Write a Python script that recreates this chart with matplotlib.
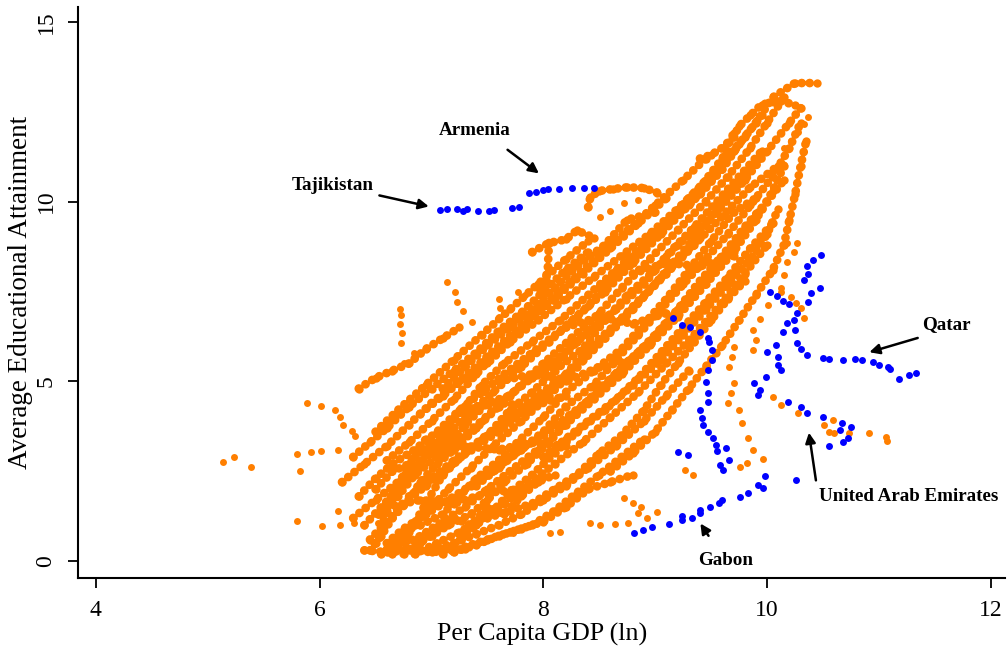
import matplotlib
matplotlib.use("Agg")
from matplotlib import pyplot as plt

plt.rcParams['font.family'] = ['Liberation Serif', 'DejaVu Serif']

ORANGE = "#ff7f00"
BLUE = "#0000ff"

# orange country paths in the dense band (ln gdp, years of schooling)
dense_paths = [
    [(6.40,0.30),(6.60,0.25),(6.80,0.30),(7.00,0.25),(7.20,0.30),(7.30,0.35)],
    [(6.55,0.20),(6.70,0.60),(6.85,1.00),(7.00,1.50),(7.15,2.00),(7.35,2.60),(7.55,3.20),(7.80,3.90),(8.05,4.60),(8.30,5.40),(8.55,6.20),(8.80,7.00),(9.05,7.90),(9.30,8.80),(9.55,9.70),(9.80,10.60),(10.00,11.40),(10.20,12.20),(10.30,12.60)],
    [(6.70,0.40),(6.90,0.70),(7.10,1.10),(7.30,1.50),(7.50,2.00),(7.70,2.50),(7.95,3.10),(8.20,3.80),(8.45,4.50),(8.70,5.20),(8.95,6.00),(9.20,6.80),(9.45,7.70),(9.70,8.60),(9.90,9.50),(10.05,10.30),(10.15,11.00)],
    [(6.85,0.20),(7.05,0.50),(7.25,0.80),(7.45,1.20),(7.65,1.60),(7.85,2.10),(8.10,2.70),(8.35,3.30),(8.60,4.00),(8.85,4.70),(9.10,5.50),(9.35,6.30),(9.60,7.20),(9.80,8.00),(10.00,8.80)],
    [(6.30,1.20),(6.50,1.70),(6.70,2.20),(6.90,2.80),(7.10,3.40),(7.30,4.00),(7.55,4.70),(7.80,5.40),(8.05,6.10),(8.30,6.80),(8.55,7.50),(8.80,8.30),(9.05,9.10),(9.30,9.90),(9.50,10.60),(9.70,11.40),(9.90,12.20),(10.05,12.90),(10.25,13.30),(10.45,13.30)],
    [(6.20,2.20),(6.40,2.70),(6.60,3.20),(6.80,3.80),(7.00,4.40),(7.25,5.00),(7.50,5.70),(7.75,6.40),(8.00,7.10),(8.25,7.80),(8.50,8.50),(8.75,9.20),(9.00,9.90),(9.25,10.60),(9.45,11.20)],
    [(6.45,0.60),(6.60,1.10),(6.75,1.60),(6.95,2.10),(7.15,2.60),(7.35,3.10),(7.60,3.60),(7.85,4.20),(8.10,4.90),(8.35,5.60),(8.60,6.40),(8.85,7.20),(9.10,8.00),(9.35,8.80),(9.60,9.60),(9.85,10.40),(10.10,11.00)],
    [(7.00,0.30),(7.20,0.50),(7.40,0.75),(7.60,1.00),(7.80,1.30),(8.00,1.70),(8.20,2.10),(8.40,2.60),(8.65,3.20),(8.90,3.90),(9.10,4.60),(9.30,5.30)],
    [(6.60,2.80),(6.80,3.30),(7.00,3.90),(7.20,4.50),(7.40,5.20),(7.60,5.90),(7.85,6.60),(8.10,7.30),(8.35,8.00),(8.60,8.70),(8.85,9.40),(9.10,10.10)],
    [(6.50,3.60),(6.70,4.20),(6.95,4.90),(7.20,5.60),(7.45,6.30),(7.70,7.00),(7.95,7.70),(8.20,8.40),(8.40,8.90)],
    [(8.40,9.85),(8.42,10.13),(8.50,10.30),(8.62,10.35),(8.75,10.40),(8.90,10.38),(9.02,10.25)],
    [(9.40,11.20),(9.50,11.30),(9.60,11.50),(9.70,11.80),(9.75,12.10),(9.85,12.40),(9.95,12.70),(10.10,12.80),(10.25,12.70)],
    [(8.60,2.50),(8.80,3.00),(9.00,3.60),(9.15,4.20),(9.30,4.80),(9.45,5.40),(9.60,6.00),(9.75,6.70),(9.90,7.40),(10.05,8.10),(10.15,8.80),(10.20,9.50),(10.25,10.20),(10.30,11.00),(10.35,11.70)],
    [(7.30,0.40),(7.50,0.60),(7.70,0.80),(7.90,1.00),(8.10,1.40),(8.30,1.90),(8.50,2.40),(8.70,2.90),(8.90,3.40)],
    [(6.50,0.50),(6.55,0.90),(6.60,1.40),(6.65,1.90),(6.75,2.40),(6.85,2.90),(7.00,3.20),(7.15,3.70),(7.30,4.30),(7.45,4.90),(7.65,5.50),(7.90,6.10),(8.15,6.70),(8.40,7.40),(8.65,8.10),(8.90,8.80),(9.15,9.50),(9.40,10.20),(9.60,10.90),(9.75,11.60)],
    [(7.10,0.20),(7.25,0.60),(7.40,1.00),(7.55,1.40),(7.70,1.90),(7.90,2.40),(8.10,3.00),(8.30,3.60),(8.55,4.20),(8.80,4.90),(9.05,5.60),(9.25,6.30),(9.45,7.00),(9.65,7.70),(9.85,8.40),(10.00,9.10),(10.10,9.80)],
    [(6.90,1.00),(7.10,1.30),(7.25,1.80),(7.40,2.30),(7.60,2.80),(7.80,3.40),(8.00,4.00),(8.20,4.70),(8.45,5.30),(8.70,5.90),(8.90,6.60),(9.10,7.30),(9.30,8.10),(9.50,8.90),(9.70,9.70),(9.90,10.10)],
    [(6.80,1.80),(7.00,2.30),(7.20,2.80),(7.45,3.40),(7.70,4.00),(7.95,4.60),(8.20,5.20),(8.40,5.90),(8.65,6.60),(8.90,7.40),(9.15,8.20),(9.40,9.00)],
    [(7.90,8.60),(8.05,8.85),(8.20,8.95),(8.30,9.20),(8.45,9.00)],
    [(6.35,4.80),(6.50,5.10),(6.65,5.30),(6.80,5.50),(6.95,5.90),(7.10,6.20),(7.25,6.50)],
    [(8.05,8.85),(8.04,8.18),(8.02,7.82),(7.97,7.54)],
    [(6.45,0.30),(6.55,0.70),(6.65,1.20),(6.80,1.70),(6.90,2.20),(7.05,2.70),(7.20,3.10),(7.40,3.70),(7.60,4.30),(7.80,4.90),(8.00,5.50),(8.25,6.20),(8.50,6.90),(8.70,7.60),(8.95,8.40),(9.20,9.20),(9.45,10.00),(9.65,10.70),(9.85,11.50),(10.00,12.20),(10.15,12.90)],
    [(6.75,0.20),(6.85,0.45),(7.00,0.70),(7.15,1.00),(7.35,1.30),(7.50,1.70),(7.65,2.20),(7.85,2.70),(8.05,3.30),(8.25,4.00),(8.50,4.80),(8.75,5.50),(9.00,6.30),(9.20,7.00),(9.40,7.80),(9.60,8.50),(9.80,9.30),(10.00,10.00),(10.15,10.60)],
    [(6.60,0.50),(6.75,0.90),(6.95,1.30),(7.15,1.70),(7.35,2.10),(7.55,2.50),(7.75,3.00),(8.00,3.50),(8.25,4.10),(8.50,4.70),(8.70,5.40),(8.95,6.10),(9.15,6.80),(9.35,7.50),(9.55,8.20),(9.75,9.00),(9.95,9.80)],
    [(6.35,1.80),(6.50,2.30),(6.65,2.70),(6.85,3.10),(7.05,3.60),(7.25,4.20),(7.45,4.70),(7.65,5.20),(7.90,5.80),(8.15,6.40),(8.40,7.10),(8.60,7.80),(8.85,8.60),(9.10,9.40),(9.30,10.10),(9.55,10.90),(9.80,11.80),(9.95,12.40)],
    [(6.30,2.90),(6.45,3.30),(6.60,3.70),(6.80,4.30),(7.00,4.80),(7.20,5.30),(7.40,5.80),(7.60,6.40),(7.80,6.90),(8.00,7.50),(8.20,8.10),(8.40,8.60)],
    [(6.55,1.30),(6.70,1.80),(6.85,2.40),(7.05,2.90),(7.25,3.40),(7.45,3.90),(7.65,4.50),(7.90,5.10),(8.15,5.70),(8.40,6.40),(8.65,7.00),(8.90,7.70),(9.10,8.50),(9.35,9.30),(9.55,10.00),(9.75,10.70),(9.95,11.40)],
    [(7.20,0.25),(7.40,0.45),(7.60,0.70),(7.80,0.90),(8.00,1.10),(8.20,1.50),(8.40,2.00),(8.60,2.20),(8.80,2.40)],
    [(7.50,1.20),(7.70,1.40),(7.90,1.60),(8.10,2.00),(8.30,2.40),(8.50,3.00),(8.70,3.50),(8.90,4.20),(9.05,4.90),(9.20,5.50),(9.35,6.10),(9.50,6.70),(9.65,7.30),(9.80,7.80)],
    [(7.40,2.10),(7.60,2.60),(7.80,3.10),(8.00,3.60),(8.20,4.30),(8.45,4.90),(8.65,5.60),(8.85,6.30),(9.05,7.00),(9.25,7.70),(9.45,8.40),(9.65,9.10),(9.85,9.90),(10.05,10.70),(10.20,11.50),(10.30,12.20)],
    [(7.10,4.80),(7.30,5.40),(7.50,6.00),(7.70,6.50),(7.90,7.00),(8.10,7.60),(8.30,8.20),(8.55,8.80),(8.75,9.50),(9.00,9.70)],
    [(6.90,4.10),(7.10,4.60),(7.30,5.10),(7.50,5.50),(7.70,6.10),(7.95,6.70),(8.20,7.30),(8.45,7.90),(8.70,8.50),(8.95,9.10),(9.20,9.80),(9.40,10.40),(9.60,11.20),(9.70,11.90)],
    [(6.40,1.00),(6.55,1.50),(6.70,2.00),(6.85,2.60),(7.00,3.00),(7.20,3.50)],
    [(6.60,0.30),(6.75,0.60),(6.90,0.50),(7.05,0.90),(7.20,1.20),(7.35,1.00),(7.50,1.50),(7.65,1.30),(7.80,1.80),(7.95,2.20),(8.10,2.40)],
    [(6.50,2.00),(6.65,2.50),(6.80,2.70),(6.95,3.40),(7.10,3.00),(7.30,3.80),(7.50,4.40),(7.70,4.60),(7.90,5.20),(8.10,5.40),(8.30,6.10),(8.50,6.60)],
    [(6.65,0.20),(6.80,0.80),(6.95,1.60),(7.10,2.40),(7.30,3.00),(7.50,3.50),(7.70,4.20),(7.90,4.70),(8.10,5.30),(8.35,5.90),(8.55,6.70),(8.75,7.40),(9.00,8.10),(9.20,8.80),(9.45,9.40),(9.65,10.20),(9.85,10.90)],
    [(8.00,2.90),(8.20,3.40),(8.40,3.90),(8.65,4.50),(8.85,5.10),(9.05,5.80),(9.25,6.50),(9.45,7.20),(9.65,7.90),(9.85,8.70),(10.05,9.40)],
    # short wiggly spells that cross the main band
    [(6.60,1.50),(6.90,1.70),(7.20,1.60),(7.50,1.90),(7.80,2.00)],
    [(7.00,3.00),(7.30,3.20),(7.60,3.10),(7.90,3.30),(8.20,3.20)],
    [(7.30,4.20),(7.60,4.40),(7.90,4.30),(8.20,4.60)],
    [(7.60,5.00),(7.90,5.20),(8.20,5.00),(8.50,5.40),(8.80,5.60)],
    [(8.20,6.50),(8.50,6.80),(8.80,6.60),(9.10,6.90)],
    [(8.80,8.00),(9.10,8.30),(9.40,8.20),(9.70,8.50)],
]

# orange outliers, drawn as separate dots
sparse_x = [6.72,6.73,6.72,6.74,6.73,6.84,6.75, 7.14,7.21,7.23,7.28,7.36, 7.60,7.61,7.60,7.77,7.84,
            5.89,6.01,6.14,6.18,6.21,6.29,6.32, 5.14,5.23,5.39, 5.80,5.92,6.01,6.16,5.82,
            5.80,6.02,6.18,6.31,6.16,6.52,6.52,
            8.42,8.51,8.64,8.76,8.72,8.80,8.87,8.85,8.93,9.02, 8.06,8.15,7.59,7.73,
            10.18,10.27,10.24,10.18,10.15,10.12,10.12,10.21,10.26,10.30,10.33,
            10.01,9.94,9.87,9.90,9.87, 9.66,9.70,9.69,9.66,9.70,9.68,9.65,
            9.75,9.78,9.83,9.87,9.96,9.82,9.76, 9.27,9.34,
            10.05,10.12,10.28,10.59,10.51,10.55,10.60,10.73,10.91,11.06,11.07,
            10.37,10.33,10.28,10.21,10.15, 8.51,8.60,8.72,8.85]
sparse_y = [7.00,6.85,6.60,6.35,6.07,5.80,5.50, 7.77,7.50,7.20,6.95,6.65, 7.30,7.05,6.80,7.49,7.40,
            4.40,4.31,4.20,4.00,3.78,3.62,3.48, 2.76,2.90,2.62, 2.98,3.03,3.06,3.09,2.50,
            1.11,0.97,1.00,1.06,1.39,1.28,1.06,
            1.06,1.00,1.03,1.06,1.75,1.61,1.50,1.34,1.20,1.36, 0.78,0.81,0.72,0.78,
            8.85,8.85,8.60,8.32,7.96,7.60,7.50,7.35,7.18,7.04,6.76,
            7.12,6.74,6.43,6.15,5.87, 6.35,5.96,5.68,5.40,4.95,4.68,4.40,
            4.20,3.84,3.42,3.09,2.84,2.73,2.62, 2.53,2.39,
            4.56,4.34,4.12,3.92,3.78,3.59,3.56,3.56,3.56,3.45,3.34,
            12.36,12.15,11.95,11.70,11.50, 9.57,9.75,9.95,10.05]

# highlighted countries (blue)
tajikistan_x = [7.08,7.14,7.23,7.28,7.32,7.42,7.51,7.56,7.72,7.78]
tajikistan_y = [9.77,9.80,9.80,9.74,9.80,9.74,9.74,9.77,9.82,9.85]
armenia_x = [7.87,7.93,8.00,8.04,8.14,8.26,8.36,8.45]
armenia_y = [10.24,10.27,10.33,10.35,10.35,10.38,10.38,10.38]
qatar_x = [10.48,10.41,10.36,10.37,10.33,10.47,10.39,10.37,10.27,10.24,10.25,10.27,10.30,10.36,
           10.50,10.55,10.68,10.79,10.85,10.95,11.00,11.08,11.10,11.18,11.27,11.33]
qatar_y = [8.52,8.38,8.20,8.00,7.82,7.60,7.46,7.20,6.90,6.70,6.43,6.07,5.90,5.73,
           5.65,5.62,5.60,5.62,5.60,5.54,5.45,5.40,5.34,5.07,5.18,5.23]
uae_x = [10.19,10.30,10.36,10.50,10.67,10.75,10.65,10.72,10.68,10.55]
uae_y = [4.43,4.29,4.12,4.00,3.84,3.73,3.65,3.42,3.31,3.20]
gabon_x = [8.81,8.89,8.97,9.12,9.24,9.24,9.33,9.40,9.40,9.49,9.57,9.60,9.76,9.83,9.92,9.96,9.98]
gabon_y = [0.78,0.86,0.95,1.03,1.14,1.25,1.20,1.34,1.42,1.50,1.61,1.70,1.78,1.89,2.12,2.03,2.37]
other_blue_x = [10.03,10.09,10.14,10.20,10.18,10.14,10.08,10.00,10.10,10.10,10.12,9.99,9.88,9.94,9.92,
                9.16,9.24,9.31,9.40,9.47,9.48,9.51,9.51,9.47,9.45,9.47,9.47,9.40,9.42,9.43,9.47,9.52,
                9.54,9.55,9.63,9.66,9.58,9.61, 9.20,9.29,10.26]
other_blue_y = [7.49,7.38,7.23,7.14,6.62,6.37,6.01,5.82,5.68,5.45,5.32,5.13,4.95,4.76,4.62,
                6.76,6.57,6.51,6.37,6.20,6.10,5.87,5.60,5.32,4.98,4.68,4.43,4.20,3.98,3.79,3.59,3.42,
                3.23,3.05,3.14,2.81,2.67,2.53, 3.03,2.95,2.25]

# labels: text position, arrow tail, arrow head
labels = [
    ("Armenia", (7.39, 11.97), (7.66, 11.49), (7.98, 10.74)),
    ("Tajikistan", (6.12, 10.44), (6.51, 10.19), (7.00, 9.85)),
    ("Qatar", (11.60, 6.57), (11.37, 6.23), (10.89, 5.79)),
    ("United Arab Emirates", (11.27, 1.81), (10.44, 2.17), (10.37, 3.65)),
    ("Gabon", (9.63, 0.03), (9.49, 0.64), (9.39, 1.11)),
]

fig = plt.figure(figsize=(10.08, 6.52), dpi=100)
ax = fig.add_axes([0.0774, 0.1135, 0.92, 0.876])

# each country path drawn as a chain of overlapping round dots
for path in dense_paths:
    px = [p[0] for p in path]
    py = [p[1] for p in path]
    ax.plot(px, py, color=ORANGE, lw=6.3, ls=(0, (0.01, 0.9)), dash_capstyle="round")
    ax.plot(px, py, "o", color=ORANGE, ms=6, mew=0, ls="none")
ax.plot(sparse_x, sparse_y, "o", color=ORANGE, ms=5, mew=0, ls="none")

for bx, by in [(tajikistan_x, tajikistan_y), (armenia_x, armenia_y), (qatar_x, qatar_y),
               (uae_x, uae_y), (gabon_x, gabon_y), (other_blue_x, other_blue_y)]:
    ax.plot(bx, by, "o", color=BLUE, ms=5, mew=0, ls="none")

for name, tpos, tail, head in labels:
    ax.text(tpos[0], tpos[1], name, ha="center", va="center", fontsize=13.7, fontweight="bold")
    ax.annotate("", xy=head, xytext=tail,
                arrowprops=dict(arrowstyle="-|>", color="black", lw=1.8, mutation_scale=15))

ax.set_xlim(3.84, 12.13)
ax.set_ylim(-0.47, 15.42)
ax.set_xticks([4, 6, 8, 10, 12])
ax.set_yticks([0, 5, 10, 15])
ax.tick_params(direction="out", length=7.5, width=1.3, labelsize=17, pad=8)
for lab in ax.get_yticklabels():
    lab.set_rotation(90)
    lab.set_va("center")
for side in ["top", "right"]:
    ax.spines[side].set_visible(False)
for side in ["left", "bottom"]:
    ax.spines[side].set_linewidth(1.5)
ax.set_xlabel("Per Capita GDP (ln)", fontsize=18.7, labelpad=2)
ax.set_ylabel("Average Educational Attainment", fontsize=19.5, labelpad=2)

plt.savefig("out.png", dpi=100)
